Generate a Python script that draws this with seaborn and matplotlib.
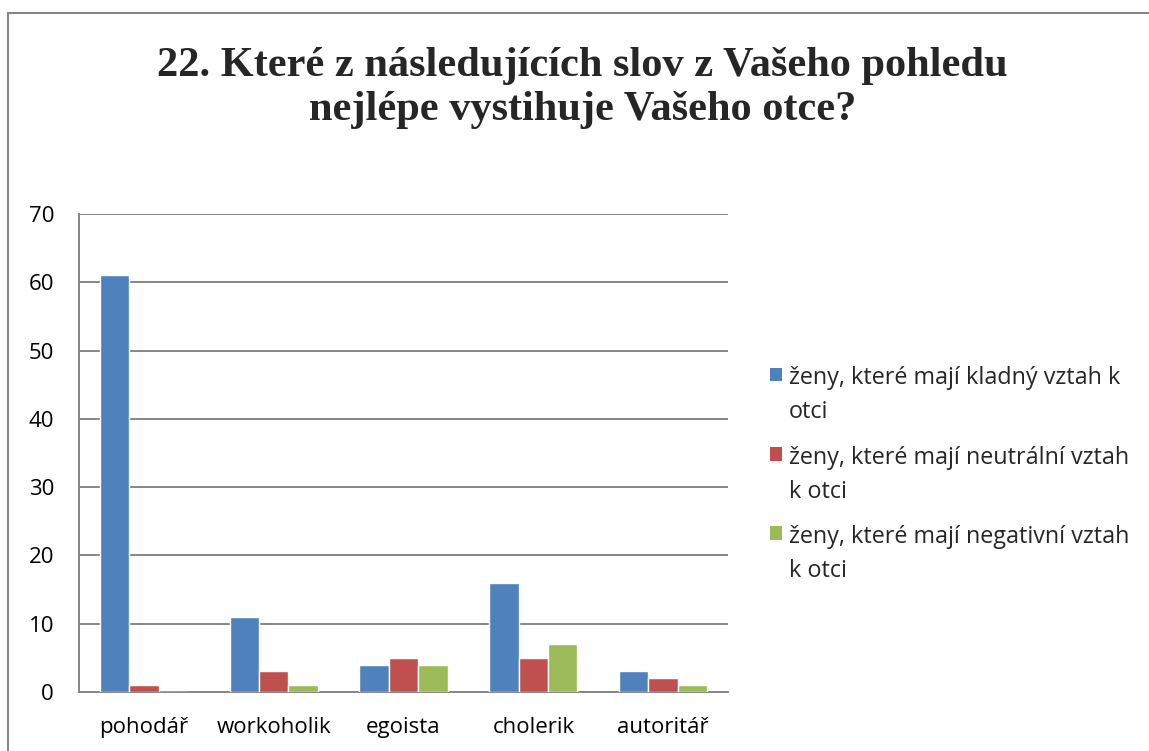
import matplotlib
matplotlib.use("Agg")
import matplotlib.pyplot as plt
from matplotlib.patches import Rectangle, Patch
from matplotlib.legend_handler import HandlerPatch
from matplotlib.lines import Line2D
import pandas as pd
import seaborn as sns

# Data
categories = ["pohodář", "workoholik", "egoista", "cholerik", "autoritář"]
series_names = [
    "ženy, které mají kladný vztah k\notci",
    "ženy, které mají neutrální vztah\nk otci",
    "ženy, které mají negativní vztah\nk otci",
]
kladny = [61, 11, 4, 16, 3]
neutralni = [1, 3, 5, 5, 2]
negativni = [0, 1, 4, 7, 1]
colors = ["#4F81BD", "#C0504D", "#9BBB59"]
title = "22. Které z následujících slov z Vašeho pohledu\nnejlépe vystihuje Vašeho otce?"

rows = []
for name, vals in zip(series_names, [kladny, neutralni, negativni]):
    for cat, v in zip(categories, vals):
        rows.append({"kategorie": cat, "skupina": name, "pocet": v})
df = pd.DataFrame(rows)

sns.set_theme(style="white")
plt.rcParams["font.family"] = ["Open Sans", "DejaVu Sans"]

FS = 16
LEG_FS = 16.8
LINESP = 1.55

fig = plt.figure(figsize=(11.49, 7.51), dpi=100)
ax = fig.add_axes([0.0688, 0.0786, 0.5648, 0.6364])

sns.barplot(data=df, x="kategorie", y="pocet", hue="skupina", palette=colors,
            width=0.68, saturation=1, ax=ax, zorder=3, legend=False)

ax.set_ylim(0, 70)
ax.set_yticks(range(0, 71, 10))
ax.set_xlim(-0.5, len(categories) - 0.5)
ax.yaxis.grid(True, color="#868686", linewidth=1.4, zorder=0)
ax.set_axisbelow(True)
for s in ["top", "right"]:
    ax.spines[s].set_visible(False)
for s in ["left", "bottom"]:
    ax.spines[s].set_color("#868686")
    ax.spines[s].set_linewidth(1.4)
ax.tick_params(axis="y", length=0, pad=18, labelsize=FS, colors="black")
ax.tick_params(axis="x", length=0, pad=18, labelsize=FS, colors="black")
ax.set_xlabel("")
ax.set_ylabel("")


# legend squares sit next to the first line of each two-line label
def top_square(legend, orig_handle, xdescent, ydescent, width, height, fontsize):
    shift = 0.6 * LINESP * fontsize
    return Rectangle((-xdescent, -ydescent + shift), width, height)


handles = [Patch(facecolor=c, edgecolor="none") for c in colors]
leg = ax.legend(handles, series_names, loc="upper left", bbox_to_anchor=(1.032, 0.725),
                frameon=False, fontsize=LEG_FS, handlelength=0.52, handleheight=0.52,
                handletextpad=0.3, labelspacing=0.92,
                handler_map={Patch: HandlerPatch(patch_func=top_square)})
for t in leg.get_texts():
    t.set_linespacing(LINESP)

fig.text(0.507, 0.937, title, ha="center", va="top", fontsize=30.5, fontweight="bold",
         family="Liberation Serif", linespacing=1.2)

# Outer chart border (left and top edges visible)
fig.add_artist(Line2D([8 / 1149, 8 / 1149], [-0.01, 1 - 13 / 751],
                      transform=fig.transFigure, color="#868686", linewidth=1.5))
fig.add_artist(Line2D([8 / 1149, 1.01], [1 - 13 / 751, 1 - 13 / 751],
                      transform=fig.transFigure, color="#868686", linewidth=1.5))

fig.savefig("out.png", dpi=100, facecolor="white")
